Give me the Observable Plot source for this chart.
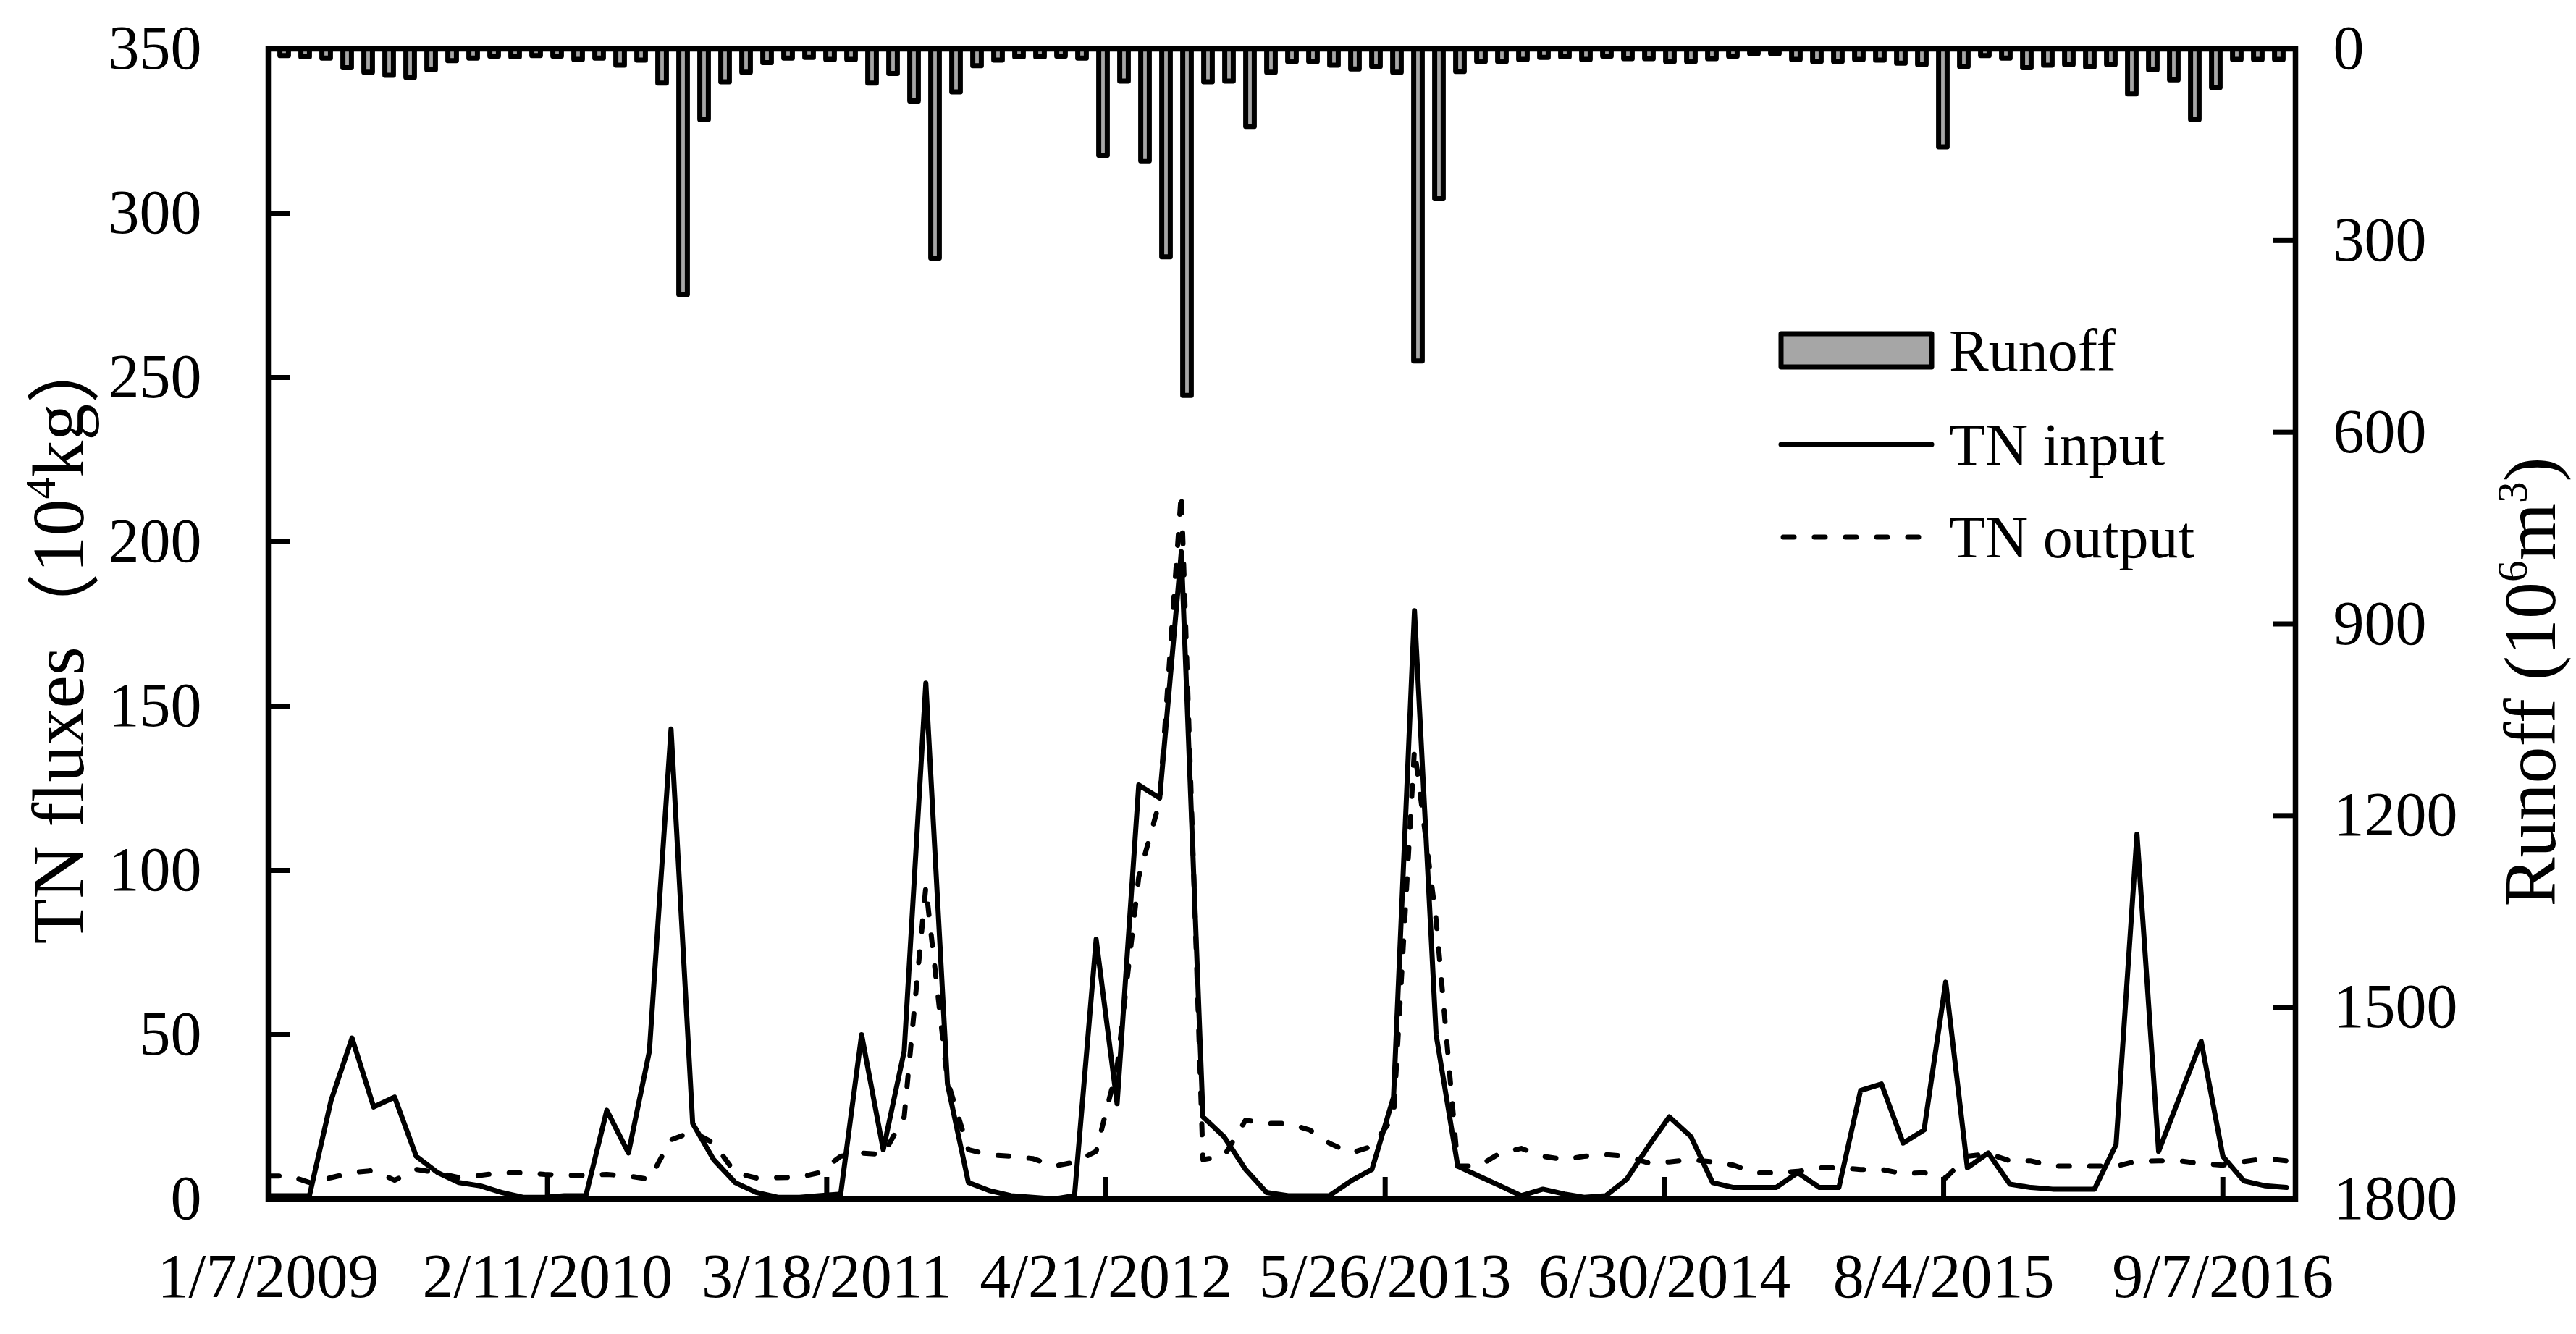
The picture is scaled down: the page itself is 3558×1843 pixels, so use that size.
<!DOCTYPE html>
<html><head><meta charset="utf-8">
<script src="https://cdn.jsdelivr.net/npm/d3@7"></script>
<script src="https://cdn.jsdelivr.net/npm/@observablehq/plot@0.6"></script>
<style>
html,body{margin:0;padding:0;background:#fff;}
#chart{position:relative;width:3558px;height:1843px;background:#fff;}
#chart svg{position:absolute;left:0;top:0;}
</style></head><body><div id="chart"></div>
<script>
// ---------------- data ----------------
const startDate = "2009-01-07";   // first monthly observation
const endDate = "2016-12-20";     // end of the date axis
// monthly runoff (10^6 m^3), Jan 2009 - Dec 2016
const runoff = [
  11,13,15,30,37,42,45,33,19,15,12,13, 11,12,17,15,26,18,54,385,111,52,37,22,
  15,14,17,17,54,39,82,328,68,27,18,13, 13,12,15,167,51,176,326,543,52,51,122,37,
  20,20,26,32,28,37,489,235,36,20,20,17, 14,13,17,12,16,16,20,20,16,12,8,8,
  17,20,20,17,18,23,25,154,28,11,15,30, 26,25,29,25,71,33,49,111,61,17,17,17
];
// monthly TN input (10^4 kg)
const tnInput = [
  1,1,1,30,49,28,31,13,8,5,4,2, 0.5,0.5,1,1,27,14,45,143,23,12,5,2,
  0.5,0.5,1,1.5,50,15,45,157,35,5,2.5,1, 0.5,0,1,79,29,126,122,197,25,19,9,2,
  1,1,1,5.5,9,31,179,50,10,7,4,1, 3,1.5,0.5,1,6,16,25,19,5,3.5,3.5,3.5,
  8,3.5,3.5,33,35,17,21,66,9.5,14,4.5,3.5, 3,3,3,16.5,111,14.5,31,48,13,5.5,4,3.5
];
// monthly TN output (10^4 kg)
const tnOutput = [
  7,7,5,6.5,8,8.7,5.7,9,8,6.5,7.2,8, 8,7.5,7.2,7.2,7.5,7,6,18,20.5,17,8,6.4,
  6.5,6.6,8,13,14,13.5,25,95,36,15,13.4,13, 12.3,10,11.2,14.5,40,98,121,215,12,13,24,23,
  23,21,17,14,16,25,137,85,10,10,14,15.4, 13,12,13,13.5,13,11,11.3,12,11.3,10.3,8,8,
  8.4,9.5,9.5,9,9,7.7,8,6.4,13,13.8,11.6,11.6, 10,10,10,10,11.5,11.6,11.6,10.8,10.3,11.4,12.3,11.6
];
const xTickLabels = ["1/7/2009","2/11/2010","3/18/2011","4/21/2012","5/26/2013","6/30/2014","8/4/2015","9/7/2016"];
const yTicks = [0,50,100,150,200,250,300,350];
const runoffTicks = [0,300,600,900,1200,1500,1800];
const seriesNames = ["Runoff","TN input","TN output"];
const yTitle = ["TN fluxes", "（", "10", "4", "kg", "）"];
const y2Title = ["Runoff (10", "6", "m", "3", ")"];

// ---------------- layout ----------------
const W = 3558, H = 1843, ML = 370, MR = 388, MT = 67, MB = 187;
const PW = W - ML - MR, PH = H - MT - MB;
const FONT = "'Palatino Linotype','Book Antiqua',Palatino,'Liberation Serif','DejaVu Serif',serif";
const TICK_FS = 86;
const LINE_W = 7;
const DASH = "15,28";

const parseMDY = s => { const [m, d, y] = s.split("/").map(Number); return new Date(Date.UTC(y, m - 1, d)); };
const fmtMDY = d => `${d.getUTCMonth() + 1}/${d.getUTCDate()}/${d.getUTCFullYear()}`;
const t0 = new Date(startDate + "T00:00:00Z");
const t1 = new Date(endDate + "T00:00:00Z");
const xTickDates = xTickLabels.map(parseMDY);
const lineData = tnInput.map((v, i) => ({
  date: new Date(Date.UTC(t0.getUTCFullYear(), t0.getUTCMonth() + i, t0.getUTCDate())),
  input: v, output: tnOutput[i]
}));
const barData = runoff.map((v, i) => ({k: i, v}));

const baseStyle = {fontFamily: FONT, fontSize: TICK_FS + "px", color: "black", background: "transparent", overflow: "visible"};

// ---------- secondary plot: runoff bars (reversed right axis) ----------
const plotBars = Plot.plot({
  width: W, height: H, marginLeft: ML, marginRight: MR, marginTop: MT, marginBottom: MB,
  style: baseStyle,
  x: {type: "band", domain: d3.range(runoff.length), padding: 0, axis: null},
  y: {domain: [0, 1800], reverse: true, axis: null},
  marks: [
    Plot.barY(barData, {x: "k", y: "v", fill: "#A6A6A6", stroke: "black", strokeWidth: 7,
      strokeLinejoin: "round", insetLeft: 8.6, insetRight: 8.6}),
    Plot.tickY(runoffTicks, {y: d => d, insetLeft: PW - 30, stroke: "black", strokeWidth: 7}),
    Plot.axisY(runoffTicks, {anchor: "right", tickSize: 0, tickPadding: 52, label: null, tickFormat: d => String(d)})
  ]
});

// ---------- primary plot: TN lines ----------
const plotLines = Plot.plot({
  width: W, height: H, marginLeft: ML, marginRight: MR, marginTop: MT, marginBottom: MB,
  style: baseStyle,
  x: {type: "utc", domain: [t0, t1], axis: null},
  y: {domain: [0, 350], axis: null},
  marks: [
    Plot.tickY(yTicks, {y: d => d, insetRight: PW - 30, stroke: "black", strokeWidth: 7}),
    Plot.tickX(xTickDates, {x: d => d, insetTop: PH - 30, stroke: "black", strokeWidth: 7}),
    Plot.axisY(yTicks, {anchor: "left", tickSize: 0, tickPadding: 92, label: null, tickFormat: d => String(d)}),
    Plot.axisX(xTickDates, {anchor: "bottom", tickSize: 0, tickPadding: 74, tickFormat: fmtMDY, label: null}),
    Plot.line(lineData, {x: "date", y: "output", stroke: "black", strokeWidth: LINE_W,
      strokeDasharray: DASH, strokeLinecap: "round", strokeLinejoin: "round"}),
    Plot.line(lineData, {x: "date", y: "input", stroke: "black", strokeWidth: LINE_W, strokeLinejoin: "round"}),
    Plot.frame({stroke: "black", strokeWidth: 7.5})
  ]
});

const chart = document.getElementById("chart");
chart.appendChild(plotBars);
chart.appendChild(plotLines);

// ---------- axis titles ----------
const svg = d3.select(plotLines);
const TITLE_FS = 102;
const lt = svg.append("text")
  .attr("transform", "translate(80,880) rotate(-90)")
  .attr("text-anchor", "middle").attr("dominant-baseline", "central")
  .style("font-family", FONT).style("font-size", TITLE_FS + "px").attr("fill", "black");
lt.append("tspan").text(yTitle[0]);
lt.append("tspan").style("font-family", "'Noto Sans CJK SC'").text(yTitle[1]);
lt.append("tspan").text(yTitle[2]);
lt.append("tspan").attr("dy", "-0.4em").style("font-size", "0.58em").text(yTitle[3]);
lt.append("tspan").attr("dy", "0.23em").text(yTitle[4]);
lt.append("tspan").style("font-family", "'Noto Sans CJK SC'").text(yTitle[5]);

const rt = svg.append("text")
  .attr("transform", "translate(3494,942) rotate(-90)")
  .attr("text-anchor", "middle").attr("dominant-baseline", "central")
  .style("font-family", FONT).style("font-size", TITLE_FS + "px").attr("fill", "black");
rt.append("tspan").text(y2Title[0]);
rt.append("tspan").attr("dy", "-0.4em").style("font-size", "0.58em").text(y2Title[1]);
rt.append("tspan").attr("dy", "0.23em").text(y2Title[2]);
rt.append("tspan").attr("dy", "-0.4em").style("font-size", "0.58em").text(y2Title[3]);
rt.append("tspan").attr("dy", "0.23em").text(y2Title[4]);

// ---------- legend ----------
const LEG_FS = 82;
const lg = svg.append("g").style("font-family", FONT).style("font-size", LEG_FS + "px");
const lx0 = 2460, lx1 = 2668, ltx = 2692;
const rows = [484, 614, 742];
lg.append("rect").attr("x", lx0).attr("y", rows[0] - 23).attr("width", lx1 - lx0).attr("height", 46)
  .attr("fill", "#A6A6A6").attr("stroke", "black").attr("stroke-width", 7).attr("stroke-linejoin", "round");
lg.append("line").attr("x1", lx0).attr("x2", lx1).attr("y1", rows[1]).attr("y2", rows[1])
  .attr("stroke", "black").attr("stroke-width", LINE_W).attr("stroke-linecap", "round");
lg.append("line").attr("x1", lx0 + 3).attr("x2", lx1).attr("y1", rows[2]).attr("y2", rows[2])
  .attr("stroke", "black").attr("stroke-width", LINE_W).attr("stroke-linecap", "round").attr("stroke-dasharray", DASH);
seriesNames.forEach((name, i) => {
  lg.append("text").attr("x", ltx).attr("y", rows[i]).attr("dominant-baseline", "central")
    .attr("text-anchor", "start").attr("fill", "black").text(name);
});
</script>
</body></html>
